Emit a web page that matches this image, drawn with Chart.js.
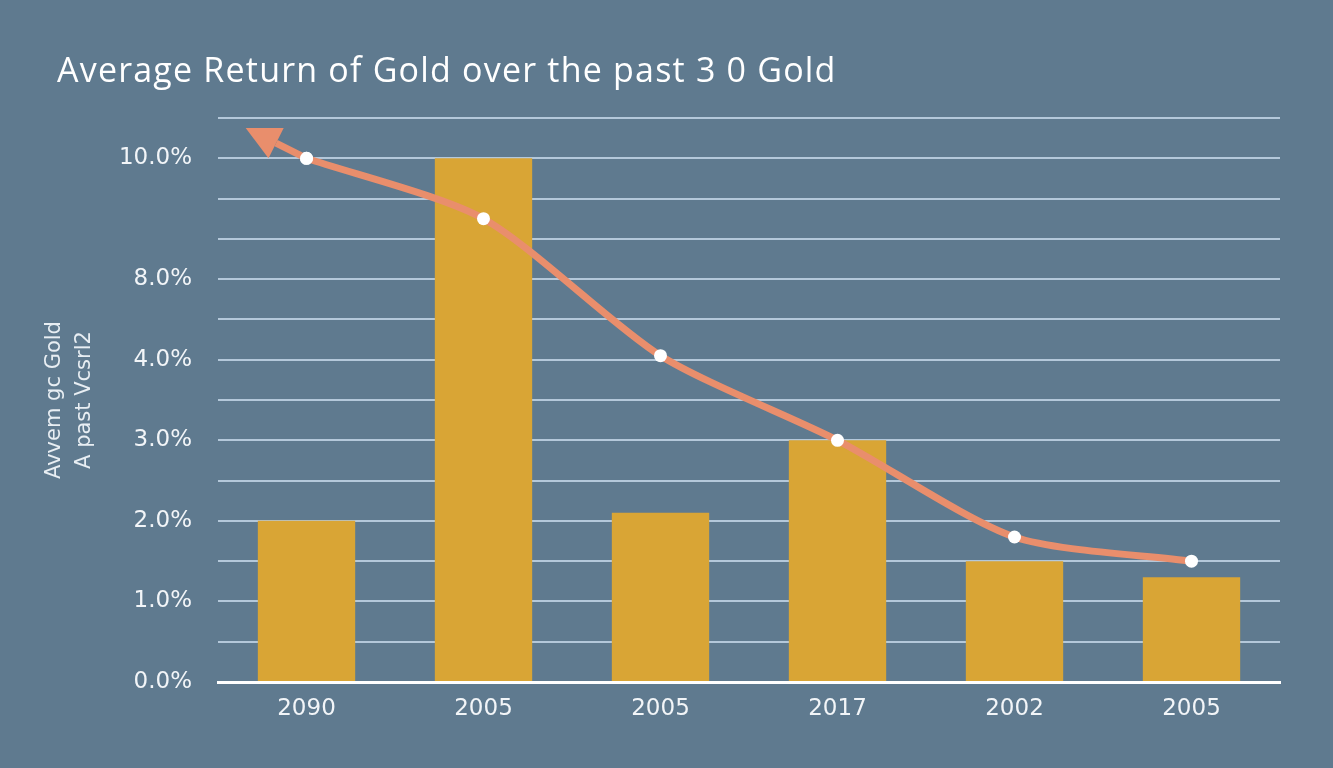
<!DOCTYPE html>
<html>
<head>
<meta charset="utf-8">
<title>Average Return of Gold</title>
<script src="https://cdn.jsdelivr.net/npm/chart.js@4.4.0/dist/chart.umd.min.js"></script>
<style>
    html, body {
        margin: 0;
        padding: 0;
        background: #5f7a8f;
        overflow: hidden;
    }
    #wrap {
        position: relative;
        width: 1333px;
        height: 768px;
    }
</style>
</head>
<body>
<div id="wrap"><canvas id="goldChart" width="1333" height="768"></canvas></div>
<script>
// Data
const years = ['2090', '2005', '2005', '2017', '2002', '2005'];
const barReturns = [2.0, 10.0, 2.1, 3.0, 1.5, 1.3];
const lineReturns = [10.0, 9.0, 4.2, 3.0, 1.8, 1.5];

// The axis is uneven: labelled values and where they sit on the axis
const tickValues = [0, 1, 2, 3, 4, 8, 10];
const tickSlots = [0, 1, 2, 3, 4, 5, 6.5];
const tickLabels = ['0.0%', '1.0%', '2.0%', '3.0%', '4.0%', '8.0%', '10.0%'];

const chartTitle = 'Average Return of Gold over the past 3 0 Gold';
const axisTitle = ['Avvem gc Gold', 'A past Vcsrl2'];

// map a percent value onto the uneven axis
function toSlot(v) {
    for (let i = 1; i < tickValues.length; i++) {
        if (v <= tickValues[i]) {
            const t = (v - tickValues[i - 1]) / (tickValues[i] - tickValues[i - 1]);
            return tickSlots[i - 1] + t * (tickSlots[i] - tickSlots[i - 1]);
        }
    }
    const n = tickValues.length - 1;
    return tickSlots[n] + (v - tickValues[n]) * (tickSlots[n] - tickSlots[n - 1]) / (tickValues[n] - tickValues[n - 1]);
}

const titlePlugin = {
    id: 'titleText',
    afterDraw(chart) {
        const ctx = chart.ctx;
        ctx.save();
        ctx.fillStyle = '#ffffff';
        ctx.font = '34px "Open Sans", sans-serif';
        ctx.letterSpacing = '1.2px';
        ctx.textBaseline = 'alphabetic';
        ctx.fillText(chartTitle, 57, 82);
        ctx.restore();
    }
};

// arrow head continuing the line past the first point
const arrowPlugin = {
    id: 'lineArrow',
    afterDatasetsDraw(chart) {
        const meta = chart.getDatasetMeta(1);
        if (!meta.data.length) return;
        const p = meta.data[0];
        const ctx = chart.ctx;
        const dx = -1, dy = -0.5;
        const len = Math.sqrt(dx * dx + dy * dy);
        const ux = dx / len, uy = dy / len;
        const tipX = p.x + ux * 68, tipY = p.y + uy * 68;
        const baseX = tipX - ux * 34, baseY = tipY - uy * 34;
        ctx.save();
        ctx.strokeStyle = '#e98e6c';
        ctx.fillStyle = '#e98e6c';
        ctx.lineWidth = 7;
        ctx.beginPath();
        ctx.moveTo(p.x, p.y);
        ctx.lineTo(baseX, baseY);
        ctx.stroke();
        ctx.beginPath();
        ctx.moveTo(tipX, tipY);
        ctx.lineTo(baseX - uy * 17, baseY + ux * 17);
        ctx.lineTo(baseX + uy * 17, baseY - ux * 17);
        ctx.closePath();
        ctx.fill();
        // redraw the first point on top of the arrow shaft
        ctx.fillStyle = '#ffffff';
        ctx.beginPath();
        ctx.arc(p.x, p.y, 6.5, 0, Math.PI * 2);
        ctx.fill();
        ctx.restore();
    }
};

const ctx = document.getElementById('goldChart').getContext('2d');

new Chart(ctx, {
    data: {
        labels: years,
        datasets: [{
            type: 'bar',
            data: barReturns.map(toSlot),
            backgroundColor: '#d9a535',
            borderWidth: 0,
            categoryPercentage: 1,
            barPercentage: 0.55,
            order: 2
        }, {
            type: 'line',
            data: lineReturns.map(toSlot),
            borderColor: '#e98e6c',
            borderWidth: 7,
            tension: 0.25,
            pointRadius: 6.5,
            pointBackgroundColor: '#ffffff',
            pointBorderWidth: 0,
            fill: false,
            order: 1
        }]
    },
    options: {
        responsive: false,
        animation: false,
        devicePixelRatio: 1,
        layout: {
            padding: { left: 40, top: 118, right: 53, bottom: 0 }
        },
        plugins: {
            legend: { display: false },
            tooltip: { enabled: false }
        },
        scales: {
            x: {
                grid: { display: false },
                border: { color: '#ffffff', width: 3 },
                ticks: {
                    color: '#f2f5f8',
                    font: { family: 'DejaVu Sans', size: 23 },
                    padding: 5
                },
                afterFit(scale) {
                    scale.height = 86;
                }
            },
            y: {
                min: 0,
                max: 7,
                grid: {
                    color: '#b4c8da',
                    lineWidth: 2,
                    drawTicks: false
                },
                border: { display: false },
                ticks: {
                    stepSize: 0.5,
                    color: '#f2f5f8',
                    font: { family: 'DejaVu Sans', size: 23 },
                    padding: 26,
                    autoSkip: false,
                    callback: function(value) {
                        const i = tickSlots.indexOf(value);
                        return i >= 0 ? tickLabels[i] : '';
                    }
                },
                title: {
                    display: true,
                    text: axisTitle,
                    color: '#e8eef3',
                    font: { family: 'DejaVu Sans', size: 21, lineHeight: 1.4 },
                    padding: 0
                },
                afterFit(scale) {
                    scale.width = 178;
                }
            }
        }
    },
    plugins: [titlePlugin, arrowPlugin]
});
</script>
</body>
</html>
